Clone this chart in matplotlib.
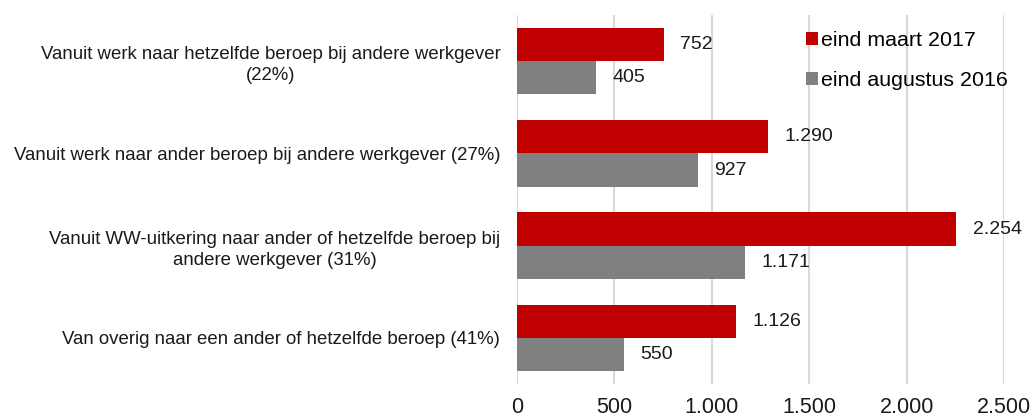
import matplotlib.pyplot as plt
import numpy as np

plt.rcParams["font.family"] = ["Liberation Sans", "DejaVu Sans"]

categories = [
    "Vanuit werk naar hetzelfde beroep bij andere werkgever\n(22%)",
    "Vanuit werk naar ander beroep bij andere werkgever (27%)",
    "Vanuit WW-uitkering naar ander of hetzelfde beroep bij\nandere werkgever (31%)",
    "Van overig naar een ander of hetzelfde beroep (41%)",
]
maart_2017 = [752, 1290, 2254, 1126]
augustus_2016 = [405, 927, 1171, 550]
series_labels = ["eind maart 2017", "eind augustus 2016"]
x_ticks = [0, 500, 1000, 1500, 2000, 2500]


def fmt(v):
    return f"{v:,}".replace(",", ".")


fig = plt.figure(figsize=(10.33, 4.19), dpi=100)
ax = fig.add_axes([0.5005, 0.0835, 0.4715, 0.8805])

y = np.arange(len(categories))
h = 0.36
red, grey = "#C00000", "#808080"
ax.barh(y - h / 2, maart_2017, height=h, color=red, label=series_labels[0], zorder=3)
ax.barh(y + h / 2, augustus_2016, height=h, color=grey, label=series_labels[1], zorder=3)

for yi, v in zip(y, maart_2017):
    ax.text(v + 85, yi - h / 2, fmt(v), va="center", ha="left", fontsize=14, color="#1a1a1a")
for yi, v in zip(y, augustus_2016):
    ax.text(v + 85, yi + h / 2, fmt(v), va="center", ha="left", fontsize=14, color="#1a1a1a")

ax.set_ylim(len(categories) - 0.5, -0.5)
ax.set_xlim(0, 2500)
ax.set_yticks(y)
ax.set_yticklabels(categories, fontsize=13.4, multialignment="center",
                   linespacing=1.3, color="#1a1a1a")
ax.set_xticks(x_ticks)
ax.set_xticklabels([fmt(t) for t in x_ticks], fontsize=15.5, color="#1a1a1a")
ax.tick_params(axis="both", length=0)
ax.tick_params(axis="y", pad=12)
ax.tick_params(axis="x", pad=9)
for s in ax.spines.values():
    s.set_visible(False)
ax.xaxis.grid(True, color="#D9D9D9", linewidth=1.5, zorder=0)
ax.set_axisbelow(True)

leg = ax.legend(loc="upper right", bbox_to_anchor=(1.025, 0.98), frameon=False,
                fontsize=15.4, handlelength=0.55, handleheight=0.55, handletextpad=0.15,
                labelspacing=1.0, borderaxespad=0)

fig.savefig("out.png", dpi=100)
